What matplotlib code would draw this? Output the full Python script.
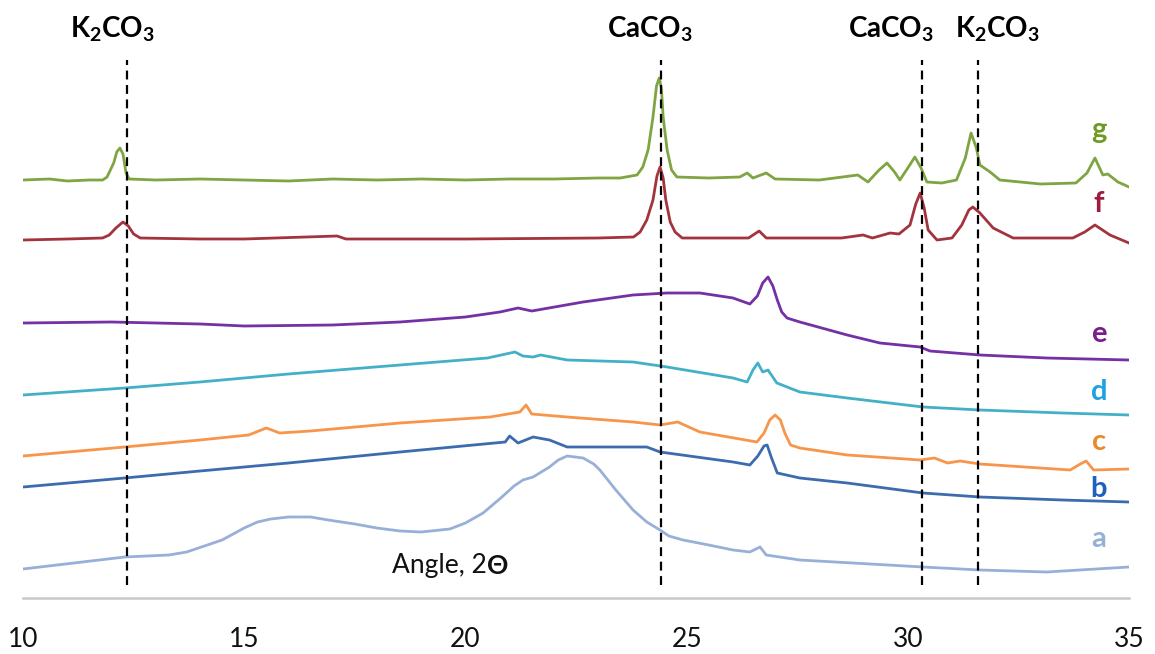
import matplotlib
matplotlib.use("Agg")
import matplotlib.pyplot as plt

plt.rcParams["font.family"] = ["Lato", "DejaVu Sans"]
plt.rcParams["mathtext.fontset"] = "custom"
plt.rcParams["mathtext.rm"] = "Lato"
plt.rcParams["mathtext.bf"] = "Lato:bold"

# XRD patterns (2theta, stacked intensity, arbitrary units)
g_x = [10.0, 10.6, 11.0, 11.5, 11.8, 11.9, 12.05, 12.12, 12.19, 12.26, 12.33, 12.4, 13.0,
       14.0, 15.0, 16.0, 17.0, 18.0, 19.0, 20.0, 21.0, 22.0, 23.0, 23.5, 23.88,
       24.01, 24.13, 24.24, 24.32, 24.38, 24.43, 24.47, 24.56, 24.66, 24.78, 25.5, 26.2,
       26.37, 26.5, 26.8, 27.0, 28.0, 28.87, 29.1, 29.35, 29.53, 29.7, 29.82, 30.0, 30.16,
       30.3, 30.43, 30.77, 31.1, 31.3, 31.43, 31.55, 31.63, 31.86, 32.08, 33.0, 33.8,
       34.05, 34.23, 34.41, 34.52, 34.75, 35.0]
g_y = [418, 419, 417, 418, 418, 421, 435, 446, 450, 444, 425, 419, 418,
       419, 418, 417, 419, 418, 419, 418, 419, 419, 420, 420, 423,
       431, 448, 481, 512, 520, 510, 481, 448, 428, 421, 420, 421,
       425, 420, 425, 419, 418, 423, 416, 428, 435, 426, 418, 430, 441,
       430, 416, 415, 418, 440, 465, 450, 433, 426, 418, 414, 415,
       425, 440, 423, 424, 416, 411]

f_x = [10.0, 11.0, 11.8, 11.95, 12.1, 12.26, 12.38, 12.5, 12.65, 14.0, 15.0, 17.1, 17.3,
       20.0, 23.0, 23.8, 23.95, 24.1, 24.24, 24.33, 24.4, 24.47, 24.53, 24.63, 24.74,
       24.9, 26.4, 26.64, 26.8, 28.5, 28.99, 29.2, 29.6, 29.8, 30.05, 30.18, 30.28,
       30.37, 30.46, 30.66, 31.0, 31.22, 31.38, 31.47, 31.63, 31.93, 32.38, 33.73, 34.0,
       34.23, 34.4, 34.57, 35.0]
f_y = [358, 359, 360, 363, 370, 376, 372, 364, 360, 359, 359, 362, 359,
       359, 360, 361, 366, 378, 398, 422, 431, 420, 398, 376, 366,
       360, 360, 367, 360, 360, 363, 360, 365, 364, 373, 394, 405,
       390, 368, 358, 360, 373, 388, 391, 385, 370, 360, 360, 366,
       373, 368, 363, 355]

e_x = [10.0, 12.0, 14.0, 15.0, 17.0, 18.52, 20.0, 20.78, 21.19, 21.5, 22.66, 23.79, 24.56,
       25.3, 26.05, 26.43, 26.6, 26.72, 26.84, 26.95, 27.05, 27.15, 27.27, 27.56, 28.63,
       29.37, 30.28, 30.5, 31.63, 33.14, 35.0]
e_y = [275, 276, 274, 272, 273, 276, 281, 286, 290, 287, 296, 303, 305,
       305, 300, 294, 302, 315, 321, 312, 298, 286, 280, 276, 263,
       255, 251, 247, 243, 240, 238]

d_x = [10.0, 12.3, 14.0, 16.0, 18.52, 20.5, 21.12, 21.3, 21.53, 21.7, 22.3, 23.79, 24.56,
       26.05, 26.37, 26.5, 26.61, 26.72, 26.84, 27.04, 27.56, 28.63, 30.34, 31.63, 33.5, 35.0]
d_y = [203, 210, 216, 224, 233, 240, 246, 242, 241, 243, 238, 236, 231,
       220, 216, 228, 235, 226, 228, 215, 206, 200, 191, 188, 185, 183]

c_x = [10.0, 12.3, 14.0, 15.1, 15.5, 15.8, 16.5, 18.52, 20.56, 21.23, 21.37, 21.5, 22.3,
       23.79, 24.4, 24.8, 25.3, 26.59, 26.75, 26.88, 27.0, 27.12, 27.22, 27.35, 27.56,
       28.63, 30.28, 30.6, 30.9, 31.18, 31.63, 33.67, 33.9, 34.03, 34.2, 35.0]
c_y = [142, 151, 158, 163, 170, 165, 167, 175, 181, 186, 193, 184, 181,
       176, 173, 176, 166, 156, 165, 178, 183, 178, 165, 153, 150,
       143, 138, 140, 135, 137, 134, 128, 134, 137, 128, 129]

b_x = [10.0, 12.3, 14.0, 16.0, 18.52, 20.9, 21.0, 21.19, 21.53, 21.9, 22.3, 24.1, 24.4,
       26.05, 26.43, 26.61, 26.75, 26.82, 26.92, 27.05, 27.56, 28.63, 30.34, 31.63, 33.5, 35.0]
b_y = [111, 120, 127, 135, 146, 156, 162, 155, 161, 158, 151, 151, 146,
       136, 133, 142, 152, 153, 140, 125, 120, 115, 105, 101, 98, 96]

a_x = [10.0, 12.3, 13.3, 13.7, 14.1, 14.5, 15.0, 15.3, 15.6, 16.0, 16.5, 16.9, 17.5, 18.0,
       18.52, 19.0, 19.65, 20.0, 20.4, 20.8, 21.1, 21.3, 21.53, 21.9, 22.1, 22.3, 22.66,
       22.9, 23.04, 23.4, 23.79, 24.1, 24.4, 24.6, 24.92, 25.5, 26.05, 26.43, 26.66, 26.8,
       27.56, 30.34, 31.63, 33.14, 35.0]
a_y = [29, 41, 43, 46, 52, 58, 70, 76, 79, 81, 81, 78, 74, 70,
       67, 66, 69, 75, 85, 100, 112, 118, 121, 131, 138, 142, 140,
       134, 128, 108, 88, 76, 68, 62, 58, 53, 48, 46, 51, 43,
       38, 31, 28, 26, 31]

series_labels = ["g", "f", "e", "d", "c", "b", "a"]
label_y = [460, 386, 256, 198, 148, 101, 51]

phase_names = [r"$\mathbf{K_2CO_3}$", r"$\mathbf{CaCO_3}$", r"$\mathbf{CaCO_3}$", r"$\mathbf{K_2CO_3}$"]
phase_pos = [12.35, 24.42, 30.33, 31.58]
phase_text_x = [12.03, 24.17, 29.62, 32.02]

line_colors = ["#7ea542", "#a3333d", "#7430a4", "#44b0c8", "#f7964a", "#3c6cae", "#98b0d8"]
text_colors = ["#6e9a22", "#a01c3c", "#7a1e8e", "#1ea2e0", "#e98a2a", "#1f5fbf", "#98b0d8"]

curves = [(g_x, g_y), (f_x, f_y), (e_x, e_y), (d_x, d_y), (c_x, c_y), (b_x, b_y), (a_x, a_y)]

fig = plt.figure(figsize=(11.55, 6.54), dpi=100)
ax = fig.add_axes([23 / 1155, 56 / 654, 1106 / 1155, 598 / 654])

for (xs, ys), col in zip(curves, line_colors):
    ax.plot(xs, ys, color=col, lw=2.0, solid_joinstyle="round")

for xp in phase_pos:
    ax.plot([xp, xp], [13, 538], color="black", lw=1.6, ls=(0, (4, 2.5)), zorder=5)

for name, xt in zip(phase_names, phase_text_x):
    ax.text(xt, 560, name, ha="center", va="baseline", fontsize=20)

for lab, ly, col in zip(series_labels, label_y, text_colors):
    ax.text(34.32, ly, lab, ha="center", va="baseline", fontsize=21,
            fontweight="bold", color=col)

t = ax.text(18.34, 25, "Angle, 2", ha="left", va="baseline", fontsize=19, color="#111111")
ax.annotate("Θ", xy=(1, 0), xycoords=t, ha="left", va="bottom", fontsize=19,
            fontweight="bold", color="#111111")

ax.set_xlim(10, 35)
ax.set_ylim(0, 598)
ax.set_xticks([10, 15, 20, 25, 30, 35])
ax.tick_params(axis="x", length=0, pad=21, labelsize=19, labelcolor="#111111")
ax.set_yticks([])
for side in ["top", "right", "left"]:
    ax.spines[side].set_visible(False)
ax.spines["bottom"].set_color("#c8c8c8")
ax.spines["bottom"].set_linewidth(1.8)

fig.savefig("out.png", dpi=100)
